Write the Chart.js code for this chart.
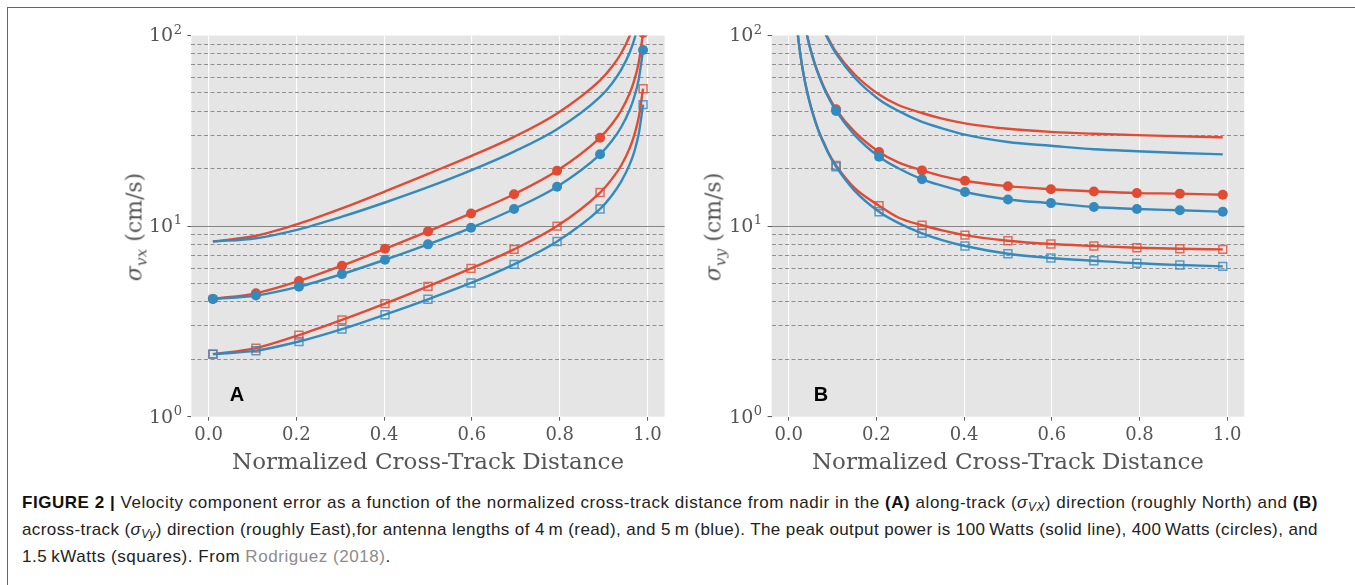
<!DOCTYPE html>
<html>
<head>
<meta charset="utf-8">
<script src="https://cdn.jsdelivr.net/npm/chart.js@4.4.1/dist/chart.umd.min.js"></script>
<style>
  html, body { margin: 0; padding: 0; background: #fff; }
  body { width: 1355px; height: 585px; position: relative; overflow: hidden; font-family: "Liberation Sans", Arial, sans-serif; }
  .frame { position: absolute; left: 7px; top: 7px; width: 1400px; height: 700px; border: 1.5px solid #666; }
  canvas { position: absolute; top: 20px; }
  .ytitle { position: absolute; top: 227px; font-family: "DejaVu Serif", serif; font-size: 22px; color: #555;
            transform: translate(-50%, -50%) rotate(-90deg); white-space: nowrap; }
  .ytitle sub { font-size: 70%; font-style: italic; vertical-align: -0.3em; line-height: 0; }
  .tag { position: absolute; top: 384px; font-weight: bold; font-size: 20px; line-height: 1; color: #000; transform: translateX(-50%); }
  .caption { position: absolute; left: 22px; top: 488.5px; font-size: 17px; color: #222; white-space: nowrap; }
  .caption > div { height: 27px; line-height: 27px; }
  .caption b { color: #111; }
  .caption sub { font-size: 70%; vertical-align: -0.25em; line-height: 0; }
  .caption .ref { color: #8c8c8c; }
</style>
</head>
<body>
<div class="frame"></div>
<canvas id="chartA" width="580" height="460" style="left:100px"></canvas>
<canvas id="chartB" width="580" height="460" style="left:680px"></canvas>
<div class="ytitle" style="left:134px"><i>σ</i><sub>vx</sub> (cm/s)</div>
<div class="ytitle" style="left:713px"><i>σ</i><sub>vy</sub> (cm/s)</div>
<div class="tag" style="left:237px">A</div>
<div class="tag" style="left:821px">B</div>
<div class="caption">
  <div><span data-w="1296"><b>FIGURE 2 |</b> Velocity component error as a function of the normalized cross-track distance from nadir in the <b>(A)</b> along-track (<i>σ<sub>VX</sub></i>) direction (roughly North) and <b>(B)</b></span></div>
  <div><span data-w="1296">across-track (<i>σ<sub>Vy</sub></i>) direction (roughly East),for antenna lengths of 4&#8201;m (read), and 5&#8201;m (blue). The peak output power is 100&#8201;Watts (solid line), 400&#8201;Watts (circles), and</span></div>
  <div><span>1.5&#8201;kWatts (squares). From <span class="ref">Rodriguez (2018)</span>.</span></div>
</div>
<script>
// normalized cross-track distance
const markerX = [0.01, 0.108, 0.206, 0.304, 0.402, 0.5, 0.598, 0.696, 0.794, 0.892, 0.99];
const lineXA = [0.01, 0.108, 0.206, 0.304, 0.402, 0.5, 0.598, 0.696, 0.794, 0.892, 0.92, 0.94, 0.96, 0.97, 0.98, 0.99];
const lineXB = [0.01, 0.02, 0.03, 0.04, 0.05, 0.06, 0.07, 0.08, 0.09, 0.108, 0.15, 0.206, 0.25, 0.304, 0.35, 0.402, 0.5, 0.598, 0.696, 0.794, 0.892, 0.99];

// (A) sigma_vx in cm/s -- 4 m antenna (red), 5 m antenna (blue)
const a4m100W  = [8.3, 8.9, 10.3, 12.4, 15.2, 18.8, 23.3, 29.4, 39.0, 58.2, 68.9, 80.7, 100.2, 116.6, 143.9, 204.6];
const a5m100W  = [8.3, 8.64, 9.62, 11.2, 13.3, 16.0, 19.6, 24.6, 32.2, 47.6, 56.4, 66.0, 82.0, 95.4, 117.7, 167.4];
const a4m400W  = [4.15, 4.44, 5.15, 6.2, 7.6, 9.38, 11.65, 14.7, 19.5, 29.1, 34.5, 40.4, 50.1, 58.3, 71.9, 103];
const a5m400W  = [4.15, 4.32, 4.81, 5.6, 6.66, 8.02, 9.8, 12.3, 16.1, 23.8, 28.2, 33.0, 41.0, 47.7, 58.8, 84];
const a4m1500W = [2.13, 2.29, 2.68, 3.22, 3.92, 4.83, 6.0, 7.55, 10.0, 15.0, 17.8, 20.8, 25.8, 30.1, 37.1, 52.6];
const a5m1500W = [2.13, 2.22, 2.48, 2.88, 3.43, 4.13, 5.03, 6.3, 8.3, 12.3, 14.6, 17.1, 21.2, 24.6, 30.4, 43.4];

// (B) sigma_vy in cm/s
const b4m100W  = [830, 416, 278, 210, 169, 141, 122, 108, 96.8, 82, 62.6, 49, 43.2, 39.2, 36.6, 34.6, 32.4, 31.2, 30.5, 30.0, 29.6, 29.2];
const b5m100W  = [830, 416, 278, 209, 168, 140, 121, 106, 95.2, 80.4, 60.2, 46.2, 40.2, 35.2, 32.6, 30.2, 27.6, 26.4, 25.3, 24.7, 24.2, 23.8];
const b4m400W  = [415, 208, 139, 104.8, 84.3, 70.7, 61.1, 53.9, 48.4, 41.0, 31.3, 24.5, 21.6, 19.6, 18.3, 17.3, 16.2, 15.6, 15.2, 14.9, 14.8, 14.6];
const b5m400W  = [415, 207.8, 138.8, 104.4, 83.8, 70.2, 60.5, 53.2, 47.6, 40.2, 30.1, 23.1, 20.1, 17.6, 16.3, 15.1, 13.8, 13.2, 12.6, 12.3, 12.1, 11.9];
const b4m1500W = [209, 105.3, 70.5, 53.3, 42.9, 36.0, 30.8, 27.5, 24.4, 20.8, 15.85, 12.8, 11.1, 10.1, 9.5, 8.97, 8.38, 8.05, 7.86, 7.7, 7.6, 7.55];
const b5m1500W = [211, 105.7, 70.6, 53.1, 42.6, 35.7, 30.8, 27.1, 24.2, 20.5, 15.35, 11.9, 10.4, 9.16, 8.45, 7.86, 7.16, 6.8, 6.58, 6.38, 6.25, 6.15];

// axis ticks
const xTicks = [0, 0.2, 0.4, 0.6, 0.8, 1.0];
const yTicks = [1, 2, 3, 4, 5, 6, 7, 8, 9, 10, 20, 30, 40, 50, 60, 70, 80, 90, 100];

const RED = '#E24A33', BLUE = '#348ABD';
const RED_SQ = 'rgba(226,74,51,0.8)', BLUE_SQ = 'rgba(52,138,189,0.8)';
const SERIF = 'DejaVu Serif';

function isDecade(v) {
    if (v == null) return false;
    const l = Math.log10(v);
    return Math.abs(l - Math.round(l)) < 1e-9;
}

function pts(xs, ys) { return xs.map((x, i) => ({ x: x, y: ys[i] })); }

function lineSet(xs, ys, color) {
    return {
        data: pts(xs, ys), showLine: true, borderColor: color, borderWidth: 2.4,
        pointRadius: 0, cubicInterpolationMode: 'monotone', fill: false, clip: 0
    };
}

function markerSet(xs, ys, color, style) {
    const hollow = style === 'rect';
    return {
        data: pts(xs, ys).filter(p => markerX.includes(p.x)), showLine: false, clip: 0,
        pointStyle: style, pointRadius: hollow ? 5.6 : 5,
        pointBackgroundColor: hollow ? 'rgba(0,0,0,0)' : color,
        pointBorderColor: color, pointBorderWidth: hollow ? 1.5 : 0
    };
}

function buildDatasets(xs, red, blue) {
    const list = [];
    [[red, RED, RED_SQ], [blue, BLUE, BLUE_SQ]].forEach(([s, c, cs]) => {
        list.push(lineSet(xs, s[0], c));
        list.push(lineSet(xs, s[1], c));
        list.push(markerSet(xs, s[1], c, 'circle'));
        list.push(lineSet(xs, s[2], c));
        list.push(markerSet(xs, s[2], cs, 'rect'));
    });
    // chart.js puts the first dataset on top
    return list.reverse();
}

// grey panel background
const plotBg = {
    id: 'plotBg',
    beforeDraw(chart) {
        const { ctx, chartArea: a } = chart;
        ctx.save();
        ctx.fillStyle = '#e5e5e5';
        ctx.fillRect(a.left, a.top, a.right - a.left, a.bottom - a.top);
        ctx.restore();
    }
};

// 10^n tick labels with a raised exponent
const decadeLabels = {
    id: 'decadeLabels',
    afterDraw(chart) {
        const { ctx, scales: { y } } = chart;
        const right = chart.chartArea.left - 9.5;
        ctx.save();
        ctx.fillStyle = '#555';
        ctx.textAlign = 'right';
        ctx.textBaseline = 'middle';
        yTicks.filter(isDecade).forEach(v => {
            const py = y.getPixelForValue(v);
            const exp = String(Math.round(Math.log10(v)));
            ctx.font = '13px "' + SERIF + '"';
            const ew = ctx.measureText(exp).width;
            ctx.fillText(exp, right, py - 5);
            ctx.font = '19px "' + SERIF + '"';
            ctx.fillText('10', right - ew - 0.5, py + 1);
        });
        ctx.restore();
    }
};

function makePanel(id, xs, red, blue, yWidth, padRight) {
    return new Chart(document.getElementById(id), {
        type: 'scatter',
        data: { datasets: buildDatasets(xs, red, blue) },
        options: {
            responsive: false,
            animation: false,
            events: [],
            layout: { padding: { top: 15.5, right: padRight, left: 0, bottom: 0 } },
            plugins: { legend: { display: false }, tooltip: { enabled: false } },
            scales: {
                x: {
                    type: 'linear', min: -0.039, max: 1.039,
                    afterBuildTicks: s => { s.ticks = xTicks.map(v => ({ value: v })); },
                    afterFit: s => { s.height = 63.3; },
                    ticks: {
                        callback: v => v.toFixed(1), autoSkip: false, maxRotation: 0,
                        font: { family: SERIF, size: 18 }, color: '#555', padding: 4
                    },
                    grid: { color: '#ffffff', lineWidth: 1.1, tickLength: 4, tickColor: '#555', tickWidth: 1 },
                    border: { display: false },
                    title: {
                        display: true, text: 'Normalized Cross-Track Distance', color: '#555',
                        font: { family: SERIF, size: 23 }, padding: { top: 0, bottom: 3 }
                    }
                },
                y: {
                    type: 'logarithmic', min: 1, max: 100,
                    afterBuildTicks: s => { s.ticks = yTicks.map(v => ({ value: v, major: isDecade(v) })); },
                    afterFit: s => { s.width = yWidth; },
                    ticks: { display: false },
                    grid: {
                        color: c => {
                            const v = c.tick && c.tick.value;
                            if (v === 1 || v === 100) return 'rgba(0,0,0,0)';
                            return v === 10 ? '#858585' : '#8f8f8f';
                        },
                        lineWidth: 1.1, tickLength: 4, tickWidth: 1,
                        tickColor: c => (c.tick && isDecade(c.tick.value)) ? '#555' : 'rgba(0,0,0,0)',
                        tickBorderDash: []
                    },
                    border: { display: false, dash: c => (c.tick && c.tick.value === 10) ? [] : [4, 2.5] }
                }
            }
        },
        plugins: [plotBg, decadeLabels]
    });
}

makePanel('chartA', lineXA, [a4m100W, a4m400W, a4m1500W], [a5m100W, a5m400W, a5m1500W], 91.4, 15.4);
makePanel('chartB', lineXB, [b4m100W, b4m400W, b4m1500W], [b5m100W, b5m400W, b5m1500W], 91.6, 15.7);

// stretch the two full caption lines to their width in the figure; the last line takes the first line's spacing
const capSpans = document.querySelectorAll('.caption span[data-w]');
let firstSpacing = 0;
capSpans.forEach((sp, i) => {
    const n = sp.textContent.length;
    const w = sp.getBoundingClientRect().width;
    const ls = (+sp.dataset.w - w) / n;
    if (i === 0) firstSpacing = ls;
    sp.style.letterSpacing = ls + 'px';
});
document.querySelector('.caption > div:last-child > span').style.letterSpacing = firstSpacing + 'px';
</script>
</body>
</html>
